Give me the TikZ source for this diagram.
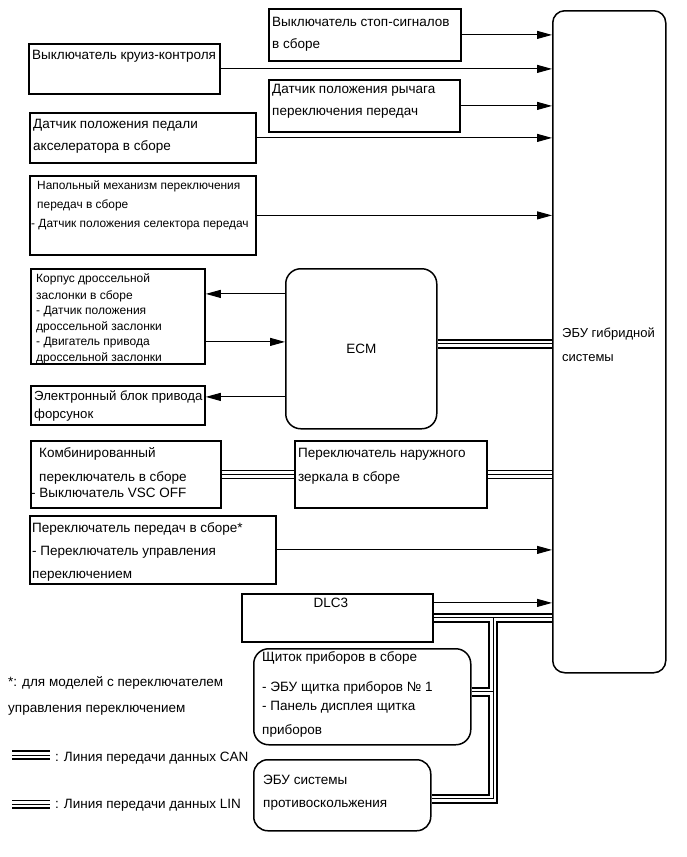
\documentclass[tikz,border=0pt]{standalone}
\usepackage{fontspec}
\setmainfont{Liberation Sans}
\usepackage{tikz}
\usetikzlibrary{arrows.meta}
\tikzstyle{line} = [line width=1pt, -{Triangle[length=15pt,width=8pt]}]
\tikzstyle{block} = [draw, rectangle, line width=1.8pt, anchor=north west, inner sep=0pt]
\tikzstyle{rblock} = [block, rounded corners=13pt, line width=1.5pt]
\tikzstyle{txt} = [anchor=base west, inner sep=0pt]
\tikzstyle{small} = [txt, font=\fontsize{11.9}{19}\selectfont]
\tikzstyle{can} = [draw, line width=1pt, preaction={draw, line width=10.5pt}, preaction={draw, white, line width=5.5pt}]
\tikzstyle{lin} = [draw, line width=0.9pt, preaction={draw, line width=9pt}, preaction={draw, white, line width=6.4pt}]
\newcommand{\boxtext}[1]{\parbox[t]{260pt}{\raggedright #1}}

\begin{document}
\begin{tikzpicture}[x=1pt, y=-1pt, font=\fontsize{13.5}{23}\selectfont]
    \useasboundingbox (0,0) rectangle (687,857);
    % ECU
    \node[rblock, rounded corners=12pt, minimum width=113pt, minimum height=662pt,
        label={[txt, font=\fontsize{13}{23}\selectfont, xshift=10pt, yshift=-327pt]north west:\boxtext{ЭБУ гибридной\\[1pt]системы}}] (ecu) at (552,10) {};
    % inputs
    \node[block, minimum width=192pt, minimum height=52pt,
        label={[txt, xshift=4pt, yshift=-18pt]north west:\boxtext{Выключатель стоп-сигналов\\[-1pt]в сборе}}] (stop) at (268,8) {};
    \node[block, minimum width=191pt, minimum height=50pt,
        label={[txt, xshift=4pt, yshift=-16pt]north west:\boxtext{Выключатель круиз-контроля}}] (cruise) at (28,43) {};
    \node[block, minimum width=191pt, minimum height=52pt,
        label={[txt, xshift=4pt, yshift=-14pt]north west:\boxtext{Датчик положения рычага\\[-1pt]переключения передач}}] (lever) at (268,79) {};
    \node[block, minimum width=226pt, minimum height=50pt,
        label={[txt, xshift=4pt, yshift=-16pt]north west:\boxtext{Датчик положения педали\\[-1pt]акселератора в сборе}}] (accel) at (29,112) {};
    \node[block, minimum width=226pt, minimum height=79pt,
        label={[small, xshift=2pt, yshift=-14pt]north west:\boxtext{\hspace*{6pt}Напольный механизм переключения\\\hspace*{6pt}передач в сборе\\- Датчик положения селектора передач}}] (floor) at (29,175) {};
    % ECM
    \node[rblock, rounded corners=15pt, minimum width=151pt, minimum height=160pt] (ecm) at (285,268) {ECM};
    \node[block, minimum width=174pt, minimum height=95pt,
        label={[small, font=\fontsize{12}{15.5}\selectfont, xshift=6pt, yshift=-14pt]north west:\boxtext{Корпус дроссельной\\[1.5pt]заслонки в сборе\\- Датчик положения\\дроссельной заслонки\\- Двигатель привода\\дроссельной заслонки}}] (throttle) at (30,268) {};
    \node[block, minimum width=174pt, minimum height=39pt,
        label={[txt, font=\fontsize{13.2}{18}\selectfont, xshift=4pt, yshift=-15pt]north west:\boxtext{Электронный блок привода\\форсунок}}] (injector) at (30,385) {};
    % LIN
    \node[block, minimum width=190pt, minimum height=67pt,
        label={[txt, font=\fontsize{13.5}{16}\selectfont, xshift=1pt, yshift=-17pt]north west:\boxtext{\hspace*{8pt}Комбинированный\\[8pt]\hspace*{8pt}переключатель в сборе\\- Выключатель VSC OFF}}] (combined) at (30,440) {};
    \node[block, minimum width=192pt, minimum height=67pt,
        label={[txt, xshift=4pt, yshift=-17pt]north west:\boxtext{Переключатель наружного\\[1pt]зеркала в сборе}}] (mirror) at (294,440) {};
    \node[block, minimum width=246pt, minimum height=68pt,
        label={[txt, xshift=3pt, yshift=-17pt]north west:\boxtext{Переключатель передач в сборе*\\- Переключатель управления\\переключением}}] (gear) at (29,515) {};
    % CAN
    \node[block, minimum width=191pt, minimum height=48pt,
        label={[anchor=base, inner sep=0pt, xshift=-6.5pt, yshift=-14pt]north:DLC3}] (dlc) at (241,593) {};
    \node[rblock, rounded corners=15pt, minimum width=217pt, minimum height=96pt,
        label={[txt, font=\fontsize{13.5}{19}\selectfont, xshift=9pt, yshift=-13pt]north west:\boxtext{Щиток приборов в сборе\\[11pt]- ЭБУ щитка приборов №~1\\- Панель дисплея щитка\\[5pt]приборов}}] (cluster) at (253,648) {};
    \node[rblock, rounded corners=14pt, minimum width=177pt, minimum height=71pt,
        label={[txt, xshift=10pt, yshift=-25pt]north west:\boxtext{ЭБУ системы\\противоскольжения}}] (abs) at (253,759) {};

    \coordinate (thr-out) at ([yshift=22.5pt]throttle.east);
    \coordinate (thr-in) at ([yshift=-25.5pt]throttle.east);
    \coordinate (inj-out) at ([yshift=8.5pt]injector.east);
    \coordinate (ecm-bus) at ([yshift=5pt]ecm.east);
    \coordinate (dlc-out) at ([yshift=15pt]dlc.east);
    \coordinate (cl-bus) at ([yshift=5pt]cluster.east);
    \coordinate (abs-bus) at ([yshift=-3.5pt]abs.east);
    \coordinate (tap) at (493,617);

    \draw[line] (stop.east) -- (stop.east -| ecu.west);
    \draw[line] (cruise.east) -- (cruise.east -| ecu.west);
    \draw[line] (lever.east) -- (lever.east -| ecu.west);
    \draw[line] (accel.east) -- (accel.east -| ecu.west);
    \draw[line] (floor.east) -- (floor.east -| ecu.west);
    \draw[line] (thr-out -| ecm.west) -- (thr-out);
    \draw[line] (thr-in) -- (thr-in -| ecm.west);
    \draw[line] (inj-out -| ecm.west) -- (inj-out);
    \draw[can] (ecm-bus) -- (ecm-bus -| ecu.west);
    \draw[lin] (combined.east) -- (mirror.west);
    \draw[lin] (mirror.east) -- (mirror.east -| ecu.west);
    \draw[line] (gear.east) -- (gear.east -| ecu.west);
    \draw[line] (dlc-out) -- (dlc-out -| ecu.west);
    \draw[can] (dlc.east) -- (dlc.east -| ecu.west)
        (tap) -- (tap |- abs-bus) -- (abs-bus)
        (cl-bus) -- (cl-bus -| tap);

    % note and legend
    \node[txt] (note) at (8,686) {\boxtext{*: для моделей с переключателем\\[3pt]управления переключением}};
    \coordinate (can-key) at (12,755);
    \coordinate (lin-key) at (12,804);
    \draw[can] (can-key) -- ++(38,0);
    \node[txt] (can-txt) at (55,761) {: Линия передачи данных CAN};
    \draw[lin] (lin-key) -- ++(38,0);
    \node[txt] (lin-txt) at (55,808) {: Линия передачи данных LIN};
\end{tikzpicture}
\end{document}
